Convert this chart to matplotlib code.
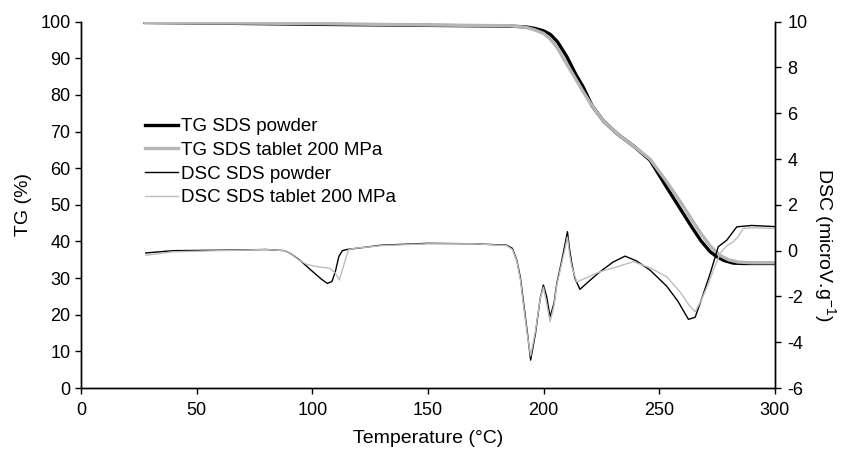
import matplotlib
matplotlib.use("Agg")
import matplotlib.pyplot as plt
from matplotlib.lines import Line2D

plt.rcParams['font.family'] = ['Liberation Sans', 'DejaVu Sans']
plt.rcParams['axes.unicode_minus'] = False
plt.rcParams['mathtext.default'] = 'regular'

# TG curves (%)
tg_temp_powder = [27, 60, 100, 150, 185, 192, 196, 200, 203, 206, 210, 214, 217, 221, 226,
                  232, 239, 246, 253, 260, 264, 268, 272, 275, 278, 282, 286, 300]
tg_powder = [99.8, 99.6, 99.3, 99.0, 98.8, 98.6, 98.2, 97.5, 96.5, 94.5, 90.5, 85.5, 82.3, 77.0, 72.8,
             69.3, 66.0, 62.2, 55.0, 48.0, 44.0, 40.2, 37.2, 35.8, 34.8, 34.1, 34.0, 34.0]

tg_temp_tablet = [27, 100, 150, 185, 192, 196, 200, 203, 206, 209, 213, 217, 221, 226, 232,
                  239, 246, 253, 260, 264, 268, 272, 276, 280, 284, 290, 300]
tg_tablet = [99.8, 99.5, 99.1, 98.9, 98.5, 97.8, 96.8, 95.2, 92.8, 89.5, 85.3, 81.0, 77.0, 72.8, 69.3,
             66.0, 62.5, 56.5, 50.0, 46.0, 42.2, 38.8, 36.3, 35.0, 34.4, 34.2, 34.2]

# DSC curves (microV/g)
dsc_temp_powder = [28, 40, 60, 80, 88, 91, 95, 100, 104, 106.5, 108.5, 110, 111.5, 113, 115,
                   130, 150, 170, 184, 186.5, 188.4, 190, 191.2, 193, 194.4, 196.5, 198.5, 199.9,
                   201.3, 202.8, 204.5, 205.7, 207.5, 209.3, 210.3, 211.3, 212.2, 213.5, 215.7,
                   220, 224.4, 230, 235.2, 240.2, 246, 253.2, 258, 262.6, 265.5, 268, 272,
                   275.5, 279.2, 283.5, 290, 300]
dsc_powder = [-0.1, 0.0, 0.02, 0.05, 0.0, -0.15, -0.45, -0.9, -1.25, -1.43, -1.35, -0.9, -0.25, 0.0, 0.05,
              0.24, 0.32, 0.3, 0.24, 0.1, -0.41, -1.2, -2.16, -3.6, -4.78, -3.6, -2.1, -1.5,
              -2.0, -2.89, -2.3, -1.43, -0.6, 0.3, 0.83, 0.0, -0.56, -1.2, -1.69,
              -1.3, -0.92, -0.5, -0.24, -0.45, -0.85, -1.55, -2.2, -3.0, -2.91, -2.2, -1.0,
              0.17, 0.46, 1.04, 1.1, 1.05]

dsc_temp_tablet = [28, 40, 60, 80, 88, 91, 94, 97.6, 102, 107.6, 110, 111.7, 113.4, 115.6, 118,
                   130, 150, 170, 184, 186.5, 188.4, 190, 191.2, 193, 194.4, 196.5, 198.5, 199.9,
                   201.3, 202.8, 204.5, 205.7, 207.5, 209.3, 210.3, 211.3, 212.2, 214.3, 217,
                   224.4, 232, 238.8, 246, 253.2, 259, 263, 265.5, 268, 271, 273.4, 276.3,
                   279, 282, 284, 286.3, 290, 300]
dsc_tablet = [-0.2, -0.05, 0.0, 0.05, 0.0, -0.15, -0.4, -0.6, -0.7, -0.77, -0.99, -1.28, -0.7, 0.03, 0.1,
              0.22, 0.3, 0.3, 0.22, 0.05, -0.45, -1.3, -2.3, -3.7, -4.6, -3.5, -2.1, -1.6,
              -2.3, -3.1, -2.4, -1.5, -0.7, 0.1, 0.6, -0.2, -0.7, -1.36, -1.25,
              -0.92, -0.7, -0.48, -0.75, -1.14, -1.8, -2.4, -2.67, -2.2, -1.5, -0.85, -0.12,
              0.2, 0.39, 0.6, 0.97, 1.0, 0.97]

labels = ['TG SDS powder', 'TG SDS tablet 200 MPa', 'DSC SDS powder', 'DSC SDS tablet 200 MPa']

fig = plt.figure(figsize=(8.46, 4.58), dpi=100)
ax = fig.add_axes([0.0957, 0.1528, 0.8203, 0.7998])
ax2 = ax.twinx()

ax.plot(tg_temp_powder, tg_powder, color='black', lw=2.4, solid_capstyle='butt')
ax.plot(tg_temp_tablet, tg_tablet, color='#b5b5b5', lw=2.4, solid_capstyle='butt')
ax2.plot(dsc_temp_powder, dsc_powder, color='black', lw=1.0)
ax2.plot(dsc_temp_tablet, dsc_tablet, color='#bdbdbd', lw=1.0)

ax.set_xlim(0, 300)
ax.set_ylim(0, 100)
ax2.set_ylim(-6, 10)
ax.set_xticks(range(0, 301, 50))
ax.set_yticks(range(0, 101, 10))
ax2.set_yticks(range(-6, 11, 2))

for a in (ax, ax2):
    a.spines['top'].set_visible(False)
    for s in a.spines.values():
        s.set_linewidth(1.0)
    a.tick_params(direction='out', length=4, width=1.0, labelsize=13, colors='black')
ax.tick_params(axis='x', pad=6)
ax2.tick_params(axis='y', pad=5)

ax.set_xlabel('Temperature (°C)', fontsize=14, labelpad=8)
ax.set_ylabel('TG (%)', fontsize=14, labelpad=6)
ax2.set_ylabel('DSC (microV.g$^{-1}$)', fontsize=14, rotation=270, labelpad=20)
ax2.yaxis.set_label_coords(1.091, 0.39)

handles = [Line2D([], [], color='black', lw=2.4),
           Line2D([], [], color='#b5b5b5', lw=2.4),
           Line2D([], [], color='black', lw=1.0),
           Line2D([], [], color='#bdbdbd', lw=1.0)]
ax2.legend(handles, labels, loc='upper left', bbox_to_anchor=(0.092, 0.737), frameon=False,
           fontsize=13.5, handlelength=1.75, handletextpad=0.2, labelspacing=0.35, borderpad=0,
           borderaxespad=0)

fig.savefig('out.png', dpi=100)
